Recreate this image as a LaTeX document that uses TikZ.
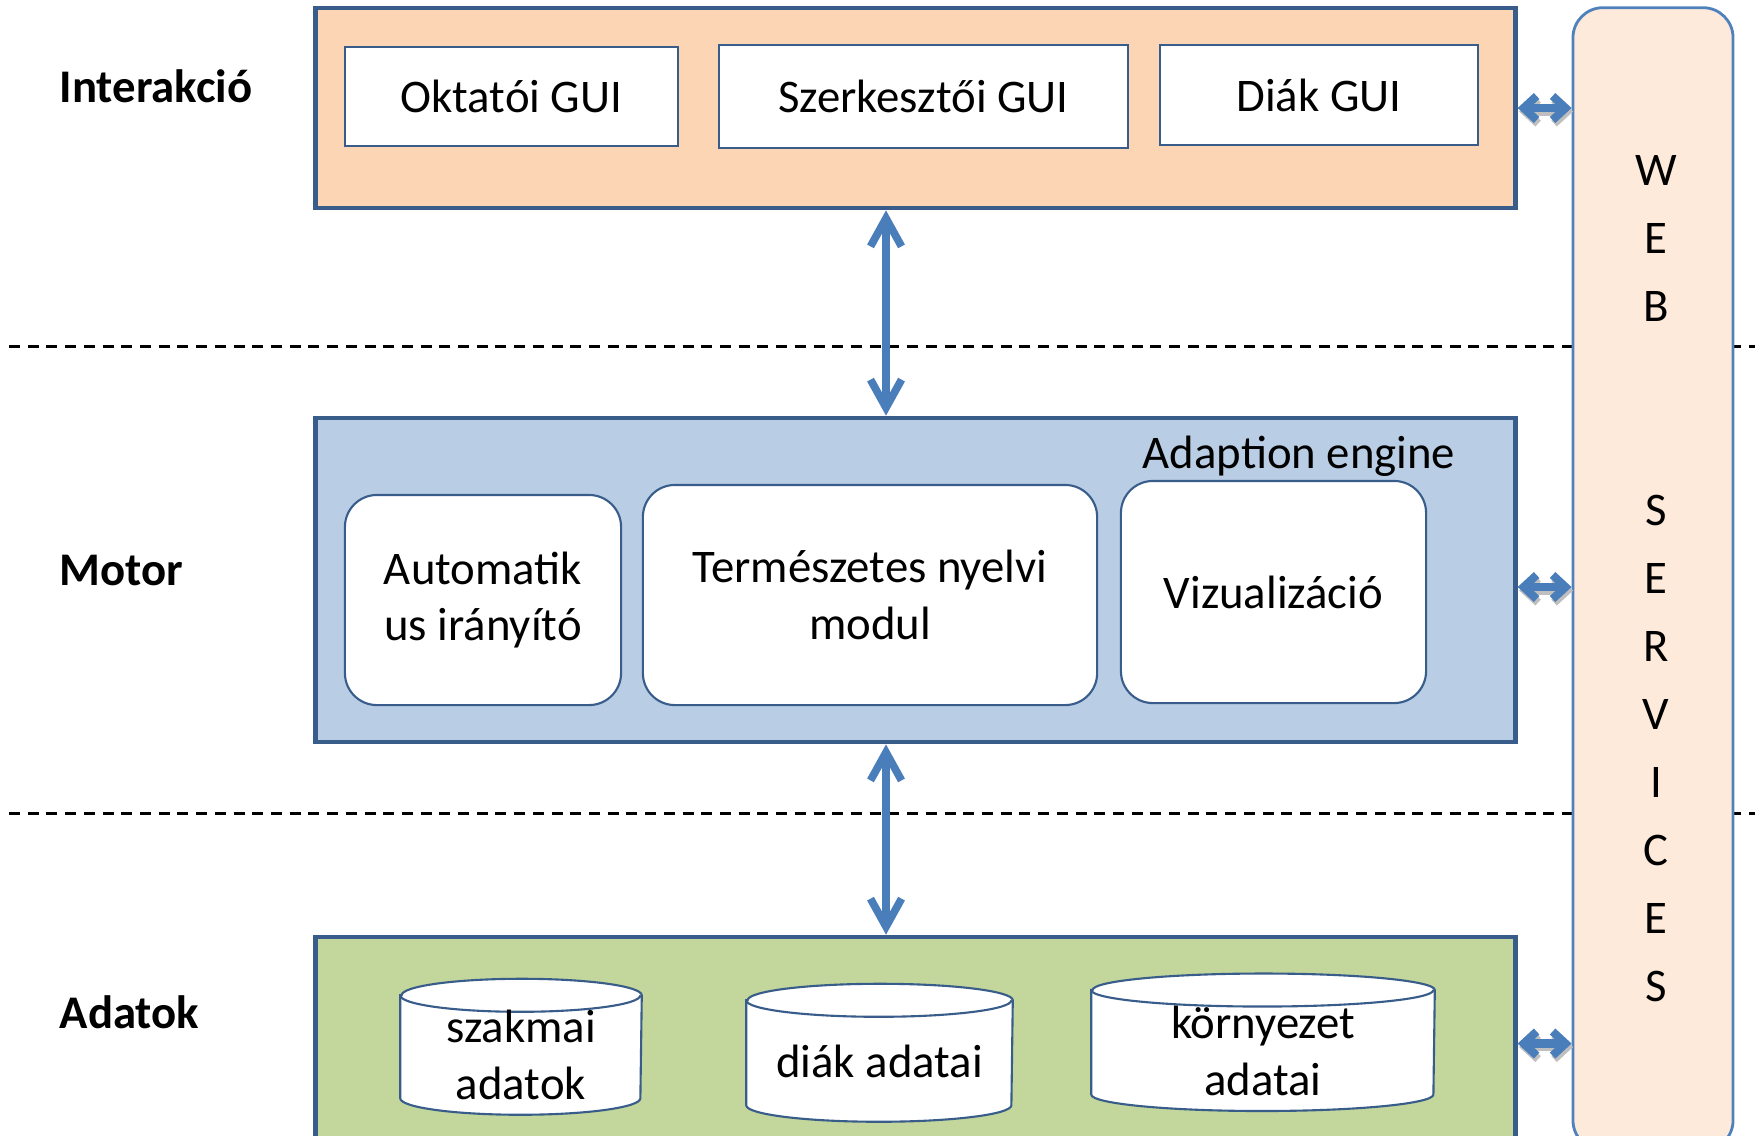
\documentclass[tikz,border=0pt]{standalone}
\usepackage{fontspec}
\setmainfont{Carlito}
\usetikzlibrary{arrows.meta,calc}
\definecolor{panelline}{RGB}{56,93,138}
\definecolor{flowblue}{RGB}{74,126,187}
\definecolor{interfill}{RGB}{252,213,181}
\definecolor{motorfill}{RGB}{185,205,229}
\definecolor{datafill}{RGB}{195,214,155}
\definecolor{wsfill}{RGB}{253,234,218}
\definecolor{wsline}{RGB}{79,129,189}
\pgfdeclarelayer{panels}
\pgfdeclarelayer{shapes}
\pgfsetlayers{panels,shapes,main}
\tikzset{
  layer/.style={draw=panelline,line width=1.3pt,minimum width=11.99cm,inner sep=0pt},
  guibox/.style={draw=panelline,line width=0.6pt,fill=white,inner sep=0pt,
    font=\fontsize{13.3pt}{16.2pt}\selectfont,align=center},
  modbox/.style={guibox,rounded corners=0.32cm},
  store/.style={inner sep=0pt,align=center,font=\fontsize{13.3pt}{16.2pt}\selectfont},
  storeline/.style={draw=panelline,line width=0.6pt},
  layername/.style={anchor=base west,inner sep=0pt,font=\fontsize{13.3pt}{16.2pt}\selectfont\bfseries},
  caption/.style={anchor=base east,inner sep=0pt,font=\fontsize{13.3pt}{16.2pt}\selectfont},
  wsletter/.style={anchor=base,inner sep=0pt,font=\fontsize{13.3pt}{16.2pt}\selectfont},
  flow/.style={{Straight Barb[length=0.28cm,width=0.31cm]}-{Straight Barb[length=0.28cm,width=0.31cm]},
    line width=2.2pt,flowblue,line cap=round},
  wslink/.style={{Straight Barb[length=0.13cm,width=0.24cm]}-{Straight Barb[length=0.13cm,width=0.24cm]},
    line width=2.3pt,flowblue,line cap=round},
  wsshadow/.style={wslink,black!25,transform canvas={shift={(0.015cm,-0.035cm)}}},
  separator/.style={line width=0.85pt,dash pattern=on 0.11cm off 0.077cm}
}
\begin{document}
\begin{tikzpicture}[x=0.01cm,y=-0.01cm]
  \useasboundingbox (0,0) rectangle (1761,1135);
  \clip (0,0) rectangle (1761,1135);
  \begin{pgfonlayer}{panels}
    \draw[separator] (9,346) -- (1755,346);
    \draw[separator] (9,813) -- (1755,813);
    \node[layer,fill=interfill,minimum height=2.0cm] (inter) at (915.5,108) {};
    \node[layer,fill=motorfill,minimum height=3.24cm] (motor) at (915.5,580) {};
    \node[layer,fill=datafill,minimum height=2.13cm] (data) at (915.5,1043.5) {};
    \node[draw=wsline,fill=wsfill,line width=0.8pt,rounded corners=0.3cm,
      minimum width=1.6cm,minimum height=11.42cm] (ws) at (1653,579) {};
  \end{pgfonlayer}
  \node[layername] (lint) at (59,102) {Interakció};
  \node[layername] (lmot) at (59,585) {Motor};
  \node[layername] (ldat) at (59,1028) {Adatok};
  \node[guibox,minimum width=3.33cm,minimum height=0.99cm] (okt) at (511.5,96.5) {Oktatói GUI};
  \node[guibox,minimum width=4.09cm,minimum height=1.03cm] (szerk) at (923.5,96.5) {Szerkesztői GUI};
  \node[guibox,minimum width=3.18cm,minimum height=1.0cm] (diak) at (1319,95) {Diák GUI};
  \node[caption] (engine) at (1456,468) {Adaption engine};
  \node[modbox,minimum width=2.76cm,minimum height=2.1cm] (auto) at (483,600) {Automatik\\us irányító};
  \node[modbox,minimum width=4.54cm,minimum height=2.2cm] (nlp) at (870,595) {Természetes nyelvi\\modul};
  \node[modbox,minimum width=3.05cm,minimum height=2.22cm] (vis) at (1273.5,592) {Vizualizáció};
  \node[store,minimum width=2.4cm,minimum height=1.18cm] (szak) at (521,1055) {szakmai\\adatok};
  \node[store,minimum width=2.65cm,minimum height=1.2cm] (dadat) at (879.5,1061) {diák adatai};
  \node[store,minimum width=3.42cm,minimum height=1.195cm] (korny) at (1263,1050.5) {környezet\\adatai};
  \begin{pgfonlayer}{shapes}
    \foreach \db/\hw in {szak/1.2cm,dadat/1.325cm,korny/1.71cm} {
      \draw[storeline,fill=white] (\db.north west) -- ([yshift=0.165cm]\db.south west)
        arc[start angle=180,end angle=360,x radius=\hw,y radius=0.165cm]
        -- (\db.north east) arc[start angle=0,end angle=180,x radius=\hw,y radius=0.165cm] -- cycle;
      \draw[storeline] (\db.north west) arc[start angle=180,end angle=360,x radius=\hw,y radius=0.165cm];
    }
  \end{pgfonlayer}
  \foreach \ch/\row in {W/0,E/1,B/2,S/5,E/6,R/7,V/8,I/9,C/10,E/11,S/12}
    \node[wsletter] (ws-\row) at (1656,185+68*\row) {\ch};
  \coordinate (axis) at (886,0);
  \draw[flow] (inter.south -| axis) -- (motor.north -| axis);
  \draw[flow] (motor.south -| axis) -- (data.north -| axis);
  \coordinate (motorport) at ($(motor.east)+(0,7)$);
  \draw[wsshadow] (inter.east) -- (inter.east -| ws.west);
  \draw[wslink] (inter.east) -- (inter.east -| ws.west);
  \draw[wsshadow] (motorport) -- (motorport -| ws.west);
  \draw[wslink] (motorport) -- (motorport -| ws.west);
  \draw[wsshadow] (data.east) -- (data.east -| ws.west);
  \draw[wslink] (data.east) -- (data.east -| ws.west);
\end{tikzpicture}
\end{document}
